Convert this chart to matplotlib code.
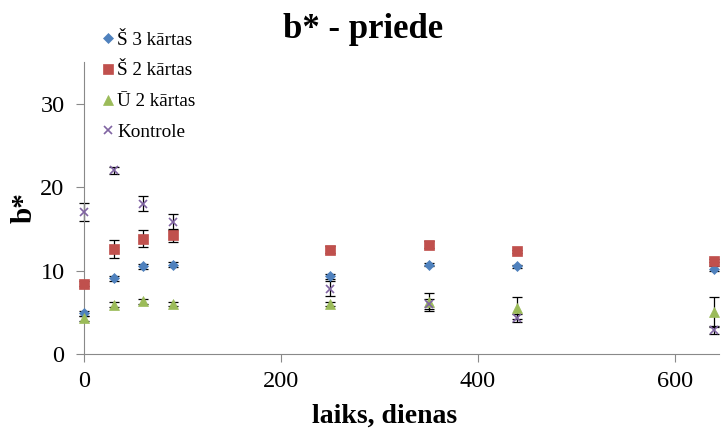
import matplotlib.pyplot as plt
import numpy as np

plt.rcParams["font.family"] = ["Liberation Serif", "DejaVu Serif"]

# laiks, dienas
dienas = [0, 30, 60, 90, 250, 350, 440, 640]

# b* vērtības
s3 = [4.9, 9.1, 10.5, 10.7, 9.3, 10.7, 10.5, 10.2]
s3_err = [0.3, 0.3, 0.3, 0.3, 0.3, 0.2, 0.2, 0.3]
s2 = [8.4, 12.6, 13.8, 14.2, 12.5, 13.1, 12.3, 11.2]
s2_err = [0.3, 1.1, 1.0, 0.8, 0.4, 0.4, 0.2, 0.2]
u2 = [4.3, 5.9, 6.3, 6.0, 6.0, 6.2, 5.5, 5.0]
u2_err = [0.3, 0.3, 0.3, 0.2, 0.2, 1.1, 1.3, 1.8]
kontrole = [17.0, 22.0, 18.0, 15.8, 7.8, 6.0, 4.3, 2.9]
kontrole_err = [1.1, 0.4, 0.9, 1.0, 0.9, 0.6, 0.5, 0.5]

serijas = [
    ("Š 3 kārtas", s3, s3_err, "D", "#4F81BD", 5),
    ("Š 2 kārtas", s2, s2_err, "s", "#C0504D", 7),
    ("Ū 2 kārtas", u2, u2_err, "^", "#9BBB59", 7),
    ("Kontrole", kontrole, kontrole_err, "x", "#8064A2", 6),
]

fig = plt.figure(figsize=(7.22, 4.32), dpi=100)
ax = fig.add_axes([0.1163, 0.1806, 0.88, 0.676])

for nos, y, err, m, c, ms in serijas:
    ax.errorbar(dienas, y, yerr=err, fmt="none", ecolor="black",
                elinewidth=0.9, capsize=3.5, capthick=0.9, zorder=2,
                clip_on=False)
    ax.plot(dienas, y, linestyle="none", marker=m, color=c, markersize=ms,
            markeredgewidth=1.2 if m == "x" else 0.5, label=nos, zorder=3,
            clip_on=False)

ax.set_xlim(0, 645)
ax.set_ylim(0, 35)
ax.set_xticks([0, 200, 400, 600])
ax.set_yticks([0, 10, 20, 30])
for s in ["top", "right"]:
    ax.spines[s].set_visible(False)
for s in ["left", "bottom"]:
    ax.spines[s].set_color("#898989")
ax.tick_params(colors="#898989", labelcolor="black", labelsize=17.5,
               length=6, direction="out")
ax.tick_params(axis="y", pad=8)
ax.tick_params(axis="x", pad=6)

ax.set_xlabel("laiks, dienas", fontsize=20, fontweight="bold")
ax.xaxis.set_label_coords(0.473, -0.17)
ax.set_ylabel("b*", fontsize=21, fontweight="bold")
ax.yaxis.set_label_coords(-0.073, 0.5)
fig.suptitle("b* - priede", fontsize=25, fontweight="bold", x=0.503, y=0.97)

fig.legend(loc="upper left", bbox_to_anchor=(0.128, 0.95), frameon=False,
           fontsize=13.8, handlelength=0.6, handletextpad=0.2, labelspacing=0.7,
           borderpad=0)

fig.savefig("out.png", dpi=100)
